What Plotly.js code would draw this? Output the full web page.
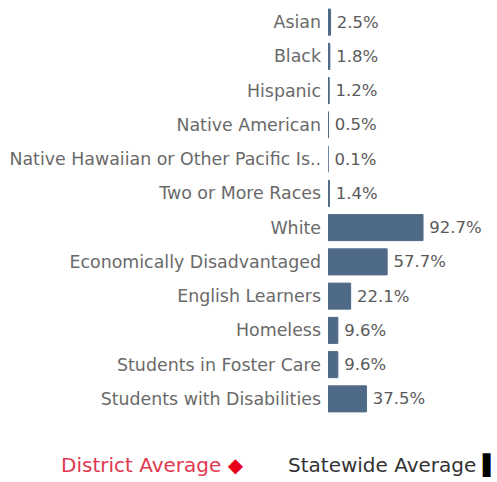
<!DOCTYPE html>
<html>
<head>
<meta charset="utf-8">
<script src="https://cdn.plot.ly/plotly-3.0.1.min.js"></script>
<style>html,body{margin:0;padding:0;background:#fff;}#chart{width:497px;height:482px;}</style>
</head>
<body>
<div id="chart"></div>
<script>
const categories = ["Asian","Black","Hispanic","Native American","Native Hawaiian or Other Pacific Is..","Two or More Races","White","Economically Disadvantaged","English Learners","Homeless","Students in Foster Care","Students with Disabilities"];
const values = [2.5, 1.8, 1.2, 0.5, 0.1, 1.4, 92.7, 57.7, 22.1, 9.6, 9.6, 37.5];
const legendLabels = ["District Average", "Statewide Average"];

const FONT = "DejaVu Sans, sans-serif";

const trace = {
  type: "bar",
  orientation: "h",
  y: categories,
  x: values,
  width: 0.76,
  marker: {color: "#4f6a87", line: {color: "#4f6a87", width: 1}},
  text: values.map(v => "\u2009" + v.toFixed(1) + "%"),
  textposition: "outside",
  cliponaxis: false,
  textfont: {family: FONT, size: 16.5, color: "#5a5a5a"},
  hoverinfo: "none"
};

const layout = {
  width: 497, height: 482,
  margin: {l: 328, r: 5, t: 5, b: 66},
  paper_bgcolor: "#fff", plot_bgcolor: "#fff",
  showlegend: false,
  xaxis: {range: [0, 160], showgrid: false, zeroline: false, showticklabels: false, showline: false, fixedrange: true},
  yaxis: {autorange: "reversed", type: "category", showgrid: false, zeroline: false, showline: false, ticks: "",
          ticklabelstandoff: 6,
          tickfont: {family: FONT, size: 17.4, color: "#6a6a6a"}},
  annotations: [
    {xref: "paper", yref: "paper", x: -0.5, y: -0.119, xanchor: "right", yanchor: "middle", showarrow: false,
     font: {family: FONT, size: 20, color: "#e0394f"},
     text: legendLabels[0] + ' <span style="color:#e8001c">◆</span>'},
    {xref: "paper", yref: "paper", x: 1.05, y: -0.119, xanchor: "right", yanchor: "middle", showarrow: false,
     font: {family: FONT, size: 20, color: "#333"},
     text: legendLabels[1] + ' <span style="color:#000">▌</span>'}
  ]
};

Plotly.newPlot("chart", [trace], layout, {displayModeBar: false, staticPlot: true});
</script>
</body>
</html>
